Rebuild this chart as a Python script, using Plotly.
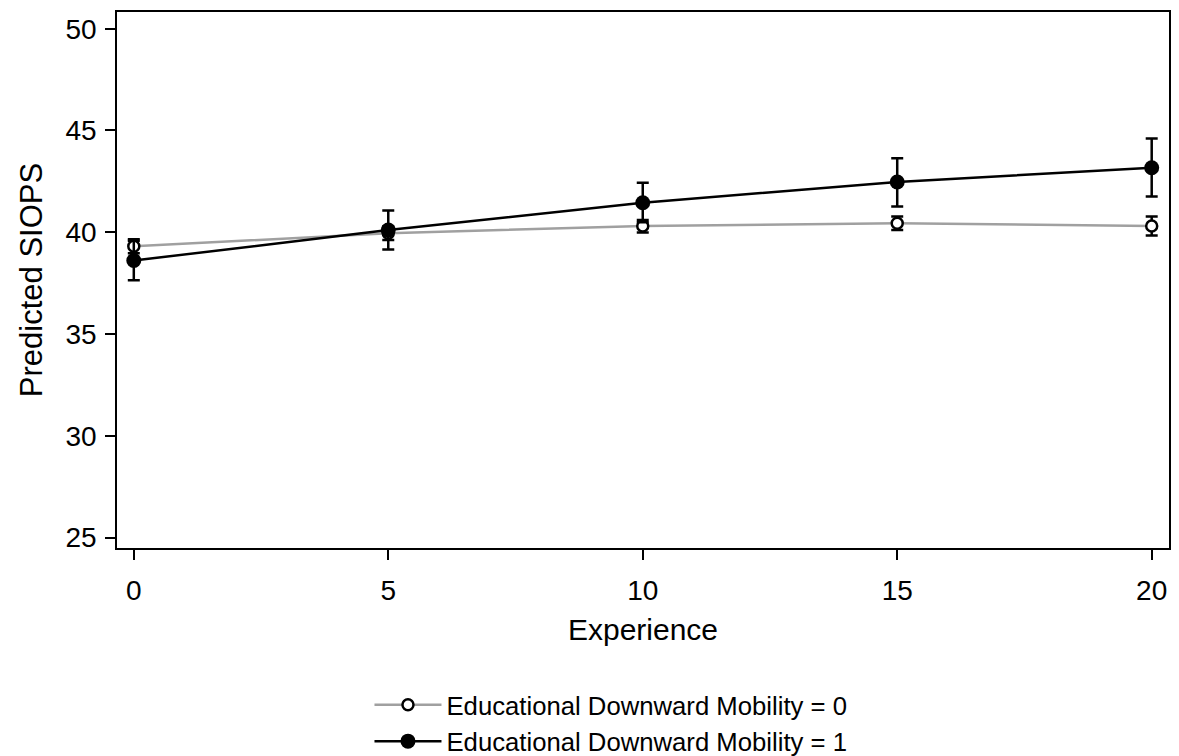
import plotly.graph_objects as go

# predicted SIOPS by experience, with confidence bounds
experience = [0, 5, 10, 15, 20]

mob0_mean = [39.31, 39.95, 40.31, 40.44, 40.31]
mob0_lo = [38.97, 39.62, 39.99, 40.11, 39.84]
mob0_hi = [39.66, 40.29, 40.60, 40.77, 40.77]

mob1_mean = [38.61, 40.11, 41.45, 42.47, 43.17]
mob1_lo = [37.64, 39.15, 40.49, 41.26, 41.76]
mob1_hi = [39.58, 41.07, 42.43, 43.63, 44.60]

labels = ["Educational Downward Mobility = 0", "Educational Downward Mobility = 1"]

FONT = "Liberation Sans, Arial, sans-serif"


def err(mean, lo, hi):
    return dict(
        type="data",
        symmetric=False,
        array=[h - m for m, h in zip(mean, hi)],
        arrayminus=[m - l for m, l in zip(mean, lo)],
        color="black",
        thickness=2.5,
        width=6,
    )


fig = go.Figure()

fig.add_trace(go.Scatter(
    x=experience, y=mob0_mean, name=labels[0],
    mode="lines+markers",
    line=dict(color="#a0a0a0", width=2.5),
    marker=dict(symbol="circle", size=11, color="white",
                line=dict(color="black", width=2.5)),
    error_y=err(mob0_mean, mob0_lo, mob0_hi),
))

fig.add_trace(go.Scatter(
    x=experience, y=mob1_mean, name=labels[1],
    mode="lines+markers",
    line=dict(color="black", width=2.5),
    marker=dict(symbol="circle", size=15, color="black"),
    error_y=err(mob1_mean, mob1_lo, mob1_hi),
))

axis_common = dict(
    showgrid=False, zeroline=False, automargin=False,
    showline=True, linecolor="black", linewidth=1.5, mirror=True,
    ticks="outside", ticklen=10, tickwidth=1.5, tickcolor="black",
    tickfont=dict(family=FONT, size=28, color="black"),
)

fig.update_xaxes(
    range=[-0.33, 20.34], tickvals=[0, 5, 10, 15, 20],
    ticklabelstandoff=7,
    title=dict(text="Experience", font=dict(family=FONT, size=30, color="black"),
               standoff=14),
    **axis_common,
)
fig.update_yaxes(
    range=[24.49, 50.82], tickvals=[25, 30, 35, 40, 45, 50],
    ticklabelstandoff=3,
    title=dict(text="Predicted SIOPS", font=dict(family=FONT, size=31, color="black"),
               standoff=14),
    **axis_common,
)

# page body adds an 8px margin, so the figure is shrunk by that much
fig.update_layout(
    width=1171, height=748,
    margin=dict(l=109, r=10, t=4, b=208, autoexpand=False),
    paper_bgcolor="white", plot_bgcolor="white",
    font=dict(family=FONT, color="black"),
    showlegend=True,
    legend=dict(
        orientation="v",
        x=0.24, xanchor="left",
        y=-0.404, yanchor="bottom",
        font=dict(family=FONT, size=25.7, color="black"),
        itemwidth=67,
    ),
)

fig.write_html("out.html")
